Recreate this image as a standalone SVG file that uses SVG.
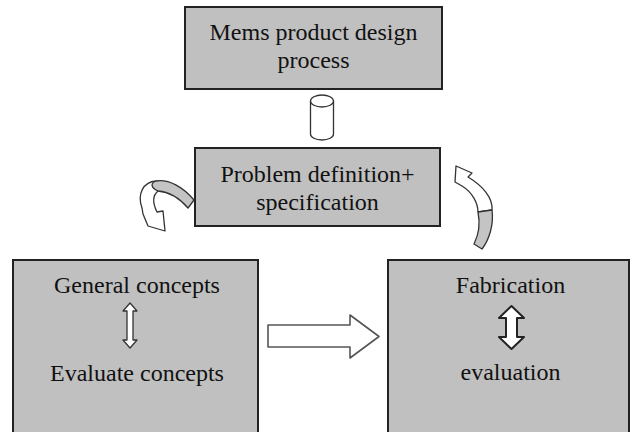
<svg xmlns="http://www.w3.org/2000/svg" width="632" height="432" viewBox="0 0 632 432">
<style>
.box{fill:#c0c0c0;stroke:#222;stroke-width:2}
text{font-family:'Liberation Serif','Times New Roman',Times,'DejaVu Serif',serif;font-size:24px;fill:#111;text-anchor:middle}
.ol{fill:#fff;stroke:#333;stroke-width:1.3;stroke-linejoin:round}
.gr{fill:#c4c4c4;stroke:#333;stroke-width:1.3;stroke-linejoin:round}
</style>
<rect width="632" height="432" fill="#fff"/>
<g id="node-mems">
<rect class="box" x="185" y="7" width="257" height="82"/>
<text x="313.5" y="40" font-family="Liberation Serif">Mems product design</text>
<text x="313.5" y="68" font-family="Liberation Serif">process</text>
</g>
<g id="node-problem">
<rect class="box" x="195" y="148" width="245" height="78"/>
<text x="317.5" y="182" font-family="Liberation Serif">Problem definition+</text>
<text x="317.5" y="210" font-family="Liberation Serif">specification</text>
</g>
<g id="node-concepts">
<rect class="box" x="13" y="260" width="245" height="180"/>
<text x="137" y="293" font-family="Liberation Serif">General concepts</text>
<text x="137" y="381" font-family="Liberation Serif">Evaluate concepts</text>
<path class="ol" d="M130 303 L137 311 L133 311 L133 340 L137 340 L130 348 L123 340 L127 340 L127 311 L123 311 Z"/>
</g>
<g id="node-fabrication">
<rect class="box" x="388" y="260" width="241" height="180"/>
<text x="510.5" y="293" font-family="Liberation Serif">Fabrication</text>
<text x="510.5" y="380" font-family="Liberation Serif">evaluation</text>
<path class="ol" style="stroke:#222;stroke-width:2" d="M511.5 306 L524 318 L517 318 L517 337 L524 337 L511.5 349 L499 337 L506 337 L506 318 L499 318 Z"/>
</g>
<g id="connectors">
<path class="ol" d="M310.5 101 L310.5 134 A11.5 6 0 0 0 333.5 134 L333.5 101"/>
<ellipse class="ol" cx="322" cy="101" rx="11.5" ry="6"/>
<path class="ol" style="stroke:#555;stroke-width:1.6" d="M268 325 L350 325 L350 315 L379 336.5 L350 358 L350 347 L268 347 Z"/>
<path class="ol" d="M156 181 C143 182 137 194 142 208 L143 214 L148 226 L165 231 L163 211 L157 212 C153 204 152 196 158 191 Z"/>
<path class="gr" d="M194 200 C183 187 169 179 156 181 C150 183 151 188 158 191 C171 192 181 200 188 208 Z"/>
<path class="ol" d="M456 166 L472 173 L468 177 C483 186 493 198 492 210 L478 212 C478 203 472 192 462 186 L455 182 Z"/>
<path class="gr" d="M492 210 C494 225 489 240 482 249 L474 244 C479 234 480 222 478 212 Z"/>
</g>
</svg>
